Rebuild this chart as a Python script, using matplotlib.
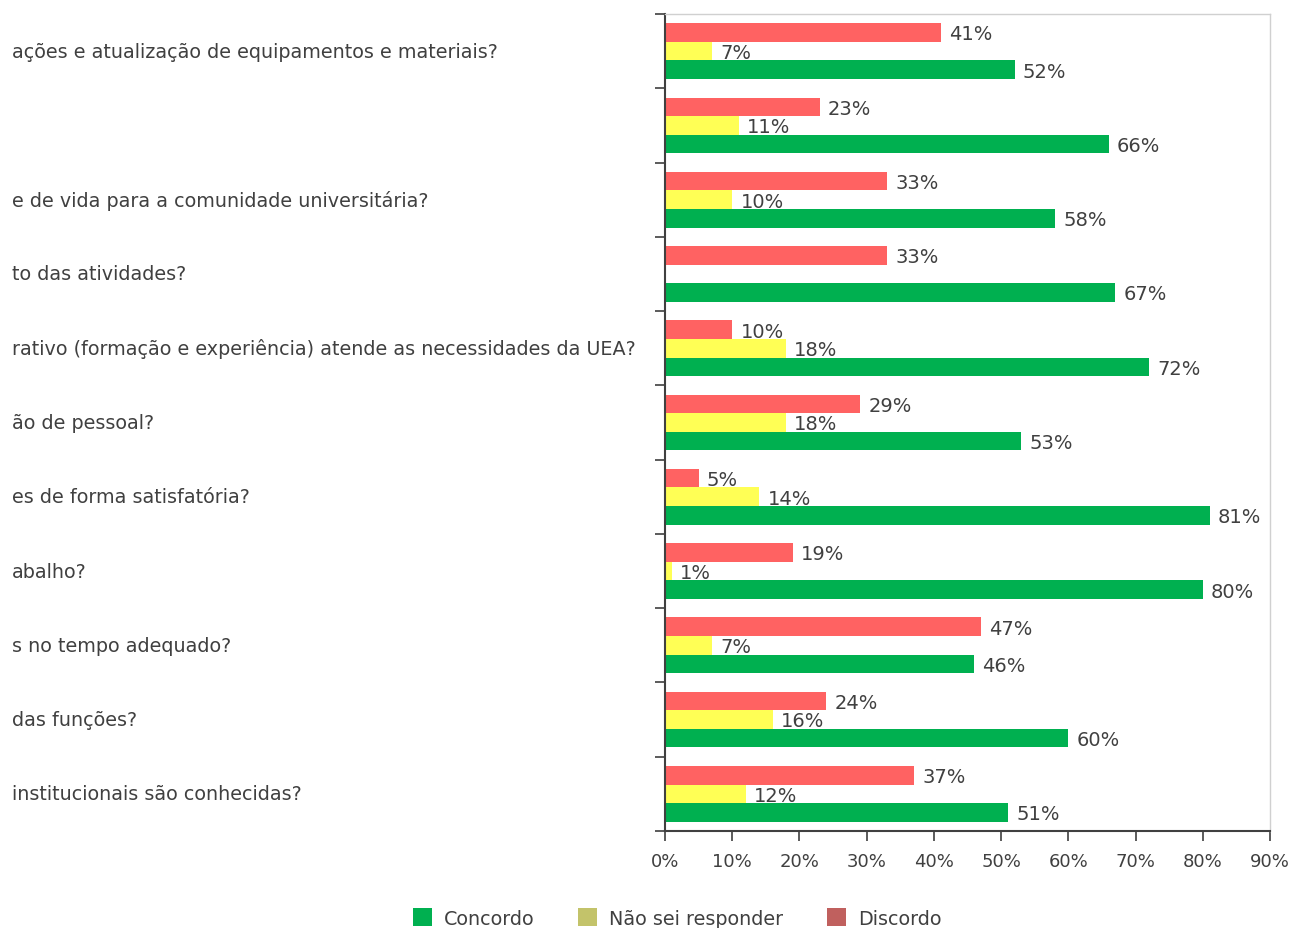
import numpy as np
import matplotlib.pyplot as plt
from matplotlib.patches import Patch
from matplotlib.ticker import FuncFormatter

plt.rcParams['font.family'] = ['DejaVu Sans']

# rótulos das perguntas (de cima para baixo)
perguntas = [
    'ações e atualização de equipamentos e materiais?',
    '',
    'e de vida para a comunidade universitária?',
    'to das atividades?',
    'rativo (formação e experiência) atende as necessidades da UEA?',
    'ão de pessoal?',
    'es de forma satisfatória?',
    'abalho?',
    's no tempo adequado?',
    'das funções?',
    'institucionais são conhecidas?',
]

discordo = [41, 23, 33, 33, 10, 29, 5, 19, 47, 24, 37]
nao_sei = [7, 11, 10, 0, 18, 18, 14, 1, 7, 16, 12]
concordo = [52, 66, 58, 67, 72, 53, 81, 80, 46, 60, 51]

fig = plt.figure(figsize=(12.92, 9.29), dpi=100)
ax = fig.add_axes([665 / 1292, 1 - 832 / 929, 605 / 1292, 817 / 929])

n = len(perguntas)
centros = np.arange(n) + 0.5
h = 0.25

series = [
    (discordo, -h, '#FF6262'),
    (nao_sei, 0, '#FFFF55'),
    (concordo, h, '#00B050'),
]
for valores, desloc, cor in series:
    v = np.array(valores) / 100
    ax.barh(centros + desloc, v, height=h, color=cor, edgecolor='none')
    for y, x in zip(centros + desloc, v):
        if x > 0:
            ax.annotate(f'{round(x * 100)}%', (x, y), xytext=(6, -1),
                        textcoords='offset points', va='center', ha='left',
                        fontsize=14, color='#404040')

ax.set_xlim(0, 0.9)
ax.set_ylim(n, 0)
ax.set_xticks(np.arange(0, 0.91, 0.1))
ax.xaxis.set_major_formatter(FuncFormatter(lambda x, p: f'{x * 100:.0f}%'))
ax.set_yticks(np.arange(0, n + 1))
ax.set_yticklabels([])
ax.tick_params(axis='x', direction='out', length=7, width=1.2, color='#404040',
               labelsize=13, labelcolor='#404040', pad=8)
ax.tick_params(axis='y', direction='out', length=7, width=1.2, color='#404040')

for lado in ['left', 'bottom']:
    ax.spines[lado].set_color('#404040')
    ax.spines[lado].set_linewidth(1.5)
for lado in ['top', 'right']:
    ax.spines[lado].set_color('#D0D0D0')
    ax.spines[lado].set_linewidth(1.0)

# perguntas alinhadas à esquerda da figura
for c, texto in zip(centros, perguntas):
    y_fig = ax.transData.transform((0, c))[1] / fig.dpi / fig.get_figheight()
    fig.text(12 / 1292, y_fig, texto, ha='left', va='center', fontsize=13.8,
             color='#404040')

handles = [
    Patch(facecolor='#00B050', label='Concordo'),
    Patch(facecolor='#C3C36A', label='Não sei responder'),
    Patch(facecolor='#C0605E', label='Discordo'),
]
fig.legend(handles=handles, loc='center', bbox_to_anchor=(677 / 1292, 1 - 919 / 929),
           ncol=3, frameon=False, fontsize=13.8, handlelength=1.0, handleheight=1.0,
           columnspacing=2.3, handletextpad=0.6, labelcolor='#404040')

fig.savefig('out.png', dpi=100)
